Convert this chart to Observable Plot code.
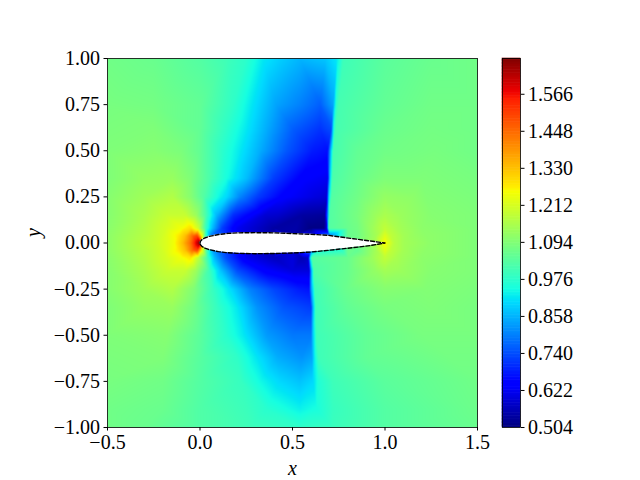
<!DOCTYPE html>
<html><head><meta charset="utf-8">
<style>
html,body{margin:0;padding:0;background:#fff}
#c{position:relative;width:640px;height:480px}
#c svg{position:absolute;left:0;top:0;background:transparent}
</style>
<script src="https://cdn.jsdelivr.net/npm/d3@7"></script>
<script src="https://cdn.jsdelivr.net/npm/@observablehq/plot@0.6"></script>
</head><body><div id="c"></div>
<script>
// field samples: each row is [y, [x, value], ...]
const rowsUpper = [
 [1.00,[-.5,1.07],[-.25,1.06],[0,1.03],[.15,1.0],[.25,.975],[.34,.92],[.43,.89],[.54,.86],[.68,.88],[.74,.92],[.775,1.0],[1,1.04],[1.25,1.06],[1.5,1.07]],
 [0.75,[-.5,1.08],[-.25,1.075],[0,1.05],[.18,.98],[.31,.9],[.41,.84],[.54,.80],[.65,.76],[.72,.84],[.735,.97],[.75,1.01],[1,1.05],[1.25,1.07],[1.5,1.07]],
 [0.62,[-.5,1.085],[-.25,1.09],[0,1.05],[.14,.98],[.25,.92],[.36,.85],[.5,.76],[.65,.71],[.71,.74],[.722,.95],[.735,1.01],[1,1.06],[1.25,1.075],[1.5,1.07]],
 [0.50,[-.5,1.09],[-.25,1.1],[-.1,1.085],[0,1.05],[.126,.97],[.216,.92],[.325,.85],[.47,.75],[.61,.68],[.69,.665],[.705,.85],[.72,1.01],[.85,1.05],[1,1.07],[1.27,1.08],[1.5,1.07]],
 [0.35,[-.5,1.09],[-.3,1.12],[-.15,1.125],[-.05,1.09],[.05,1.02],[.14,.95],[.25,.87],[.4,.72],[.55,.64],[.69,.62],[.70,.85],[.715,1.02],[.85,1.06],[1,1.09],[1.2,1.09],[1.5,1.08]],
 [0.25,[-.5,1.1],[-.3,1.135],[-.15,1.16],[-.05,1.1],[.02,1.03],[.11,.93],[.145,.9],[.22,.8],[.31,.72],[.45,.64],[.63,.6],[.685,.59],[.695,.88],[.71,1.03],[.85,1.07],[1,1.12],[1.15,1.11],[1.5,1.085]],
 [0.15,[-.5,1.1],[-.3,1.15],[-.18,1.19],[-.08,1.19],[-.02,1.13],[.03,1.02],[.09,.86],[.18,.7],[.35,.59],[.55,.54],[.675,.53],[.69,.8],[.70,1.03],[.85,1.08],[.95,1.13],[1,1.15],[1.08,1.13],[1.25,1.1],[1.5,1.09]],
 [0.08,[-.5,1.105],[-.3,1.16],[-.18,1.21],[-.1,1.25],[-.05,1.29],[-.01,1.2],[.03,1.0],[.07,.86],[.12,.72],[.2,.62],[.4,.54],[.6,.51],[.67,.51],[.685,.6],[.695,1.03],[.8,1.06],[.93,1.13],[1,1.18],[1.06,1.15],[1.2,1.11],[1.5,1.09]],
 [0.04,[-.5,1.11],[-.3,1.165],[-.18,1.22],[-.12,1.27],[-.08,1.33],[-.04,1.45],[-.015,1.5],[.01,1.25],[.03,1.0],[.06,.8],[.5,.55],[.7,.8],[.85,1.07],[.95,1.14],[1,1.22],[1.03,1.18],[1.1,1.14],[1.25,1.11],[1.5,1.09]],
 [0.00,[-.5,1.11],[-.32,1.165],[-.23,1.195],[-.14,1.25],[-.095,1.33],[-.05,1.45],[-.014,1.62],[-.002,1.68],[.01,1.3],[.5,.8],[.95,1.15],[.99,1.24],[1,1.26],[1.02,1.22],[1.05,1.17],[1.1,1.14],[1.25,1.11],[1.5,1.09]]
];
const rowsLower = [
 [-0.04,[-.5,1.11],[-.3,1.165],[-.18,1.22],[-.12,1.27],[-.08,1.33],[-.04,1.45],[-.015,1.5],[.01,1.25],[.035,1.02],[.07,.84],[.5,.6],[.6,.8],[.85,1.05],[.95,1.14],[1,1.22],[1.03,1.18],[1.1,1.14],[1.25,1.11],[1.5,1.09]],
 [-0.08,[-.5,1.105],[-.3,1.16],[-.18,1.21],[-.1,1.25],[-.05,1.28],[-.01,1.18],[.04,1.0],[.08,.86],[.14,.74],[.25,.62],[.4,.57],[.55,.56],[.585,.58],[.595,.9],[.605,1.03],[.8,1.06],[.93,1.13],[1,1.18],[1.06,1.15],[1.2,1.11],[1.5,1.09]],
 [-0.15,[-.5,1.1],[-.3,1.15],[-.18,1.19],[-.08,1.19],[-.02,1.13],[.05,1.0],[.11,.88],[.2,.74],[.35,.64],[.5,.6],[.59,.6],[.6,.82],[.615,1.02],[.8,1.06],[.95,1.12],[1,1.14],[1.08,1.13],[1.25,1.1],[1.5,1.09]],
 [-0.25,[-.5,1.1],[-.3,1.135],[-.15,1.16],[-.03,1.09],[.07,.99],[.16,.91],[.27,.8],[.4,.73],[.54,.68],[.59,.67],[.6,.82],[.62,1.0],[.79,1.06],[1,1.1],[1.22,1.095],[1.5,1.085]],
 [-0.35,[-.5,1.09],[-.3,1.12],[-.15,1.125],[-.03,1.07],[.09,.99],[.2,.92],[.31,.82],[.45,.75],[.6,.72],[.61,.85],[.625,1.0],[.8,1.05],[1,1.08],[1.25,1.09],[1.5,1.08]],
 [-0.50,[-.5,1.09],[-.18,1.1],[0,1.04],[.145,.97],[.235,.92],[.36,.83],[.5,.79],[.6,.79],[.61,.88],[.63,1.0],[.9,1.05],[1.2,1.08],[1.5,1.08]],
 [-0.62,[-.5,1.085],[-.2,1.09],[0,1.035],[.2,.98],[.3,.92],[.42,.85],[.55,.82],[.605,.84],[.62,.93],[.64,1.0],[.9,1.05],[1.5,1.075]],
 [-0.75,[-.5,1.08],[-.2,1.07],[0,1.03],[.22,.99],[.325,.94],[.43,.9],[.54,.875],[.61,.9],[.64,.96],[.72,1.0],[1,1.04],[1.5,1.07]],
 [-0.90,[-.5,1.07],[-.2,1.06],[0,1.025],[.36,.97],[.54,.93],[.63,.95],[.72,.99],[1,1.03],[1.5,1.065]],
 [-1.00,[-.5,1.07],[-.3,1.06],[0,1.025],[.27,1.0],[.54,.98],[.72,.995],[1,1.03],[1.5,1.06]]
];
// aerofoil outline
const foilX     = [0,.003,.01,.025,.05,.1,.15,.2,.3,.4,.5,.6,.69,.83,.92,1];
const foilUpper = [0,.010,.018,.027,.036,.046,.052,.055,.056,.055,.051,.047,.042,.023,.011,0];
const foilLower = [0,-.010,-.018,-.027,-.036,-.047,-.053,-.056,-.058,-.057,-.054,-.049,-.040,-.025,-.014,0];
// colour bar
const barTicks = [0.504,0.622,0.740,0.858,0.976,1.094,1.212,1.330,1.448,1.566];
const barMin = 0.504, barMax = 1.68;
const xTicks = [-0.5,0,0.5,1,1.5];
const yTicks = [-1,-0.75,-0.5,-0.25,0,0.25,0.5,0.75,1];
// matplotlib jet stops
const jetT = [0,.11,.125,.34,.35,.375,.64,.65,.66,.89,.91,1];
const jetC = ["#00007f","#0000ff","#0000ff","#00dcfe","#00e5f5","#16ffe1","#f7ff00","#ffee00","#ffe500","#ff1e00","#ee0000","#7f0000"];

const samples = [...rowsUpper,...rowsLower].flatMap(([y,...pts])=>pts.map(([x,v])=>({x,y,v})));
const colorOpt = {type:"linear",domain:jetT.map(t=>barMin+t*(barMax-barMin)),range:jetC,clamp:true,interpolate:"rgb"};
const font = "'Liberation Serif','DejaVu Serif',serif";
const minus = s=>s.replace("-","\u2212");
const foil = foilX.map((x,i)=>({x,u:foilUpper[i],l:foilLower[i]}));
const outline = [...foil.map(d=>({x:d.x,y:d.u})),...foil.slice().reverse().map(d=>({x:d.x,y:d.l}))];

const main = Plot.plot({
  width:640,height:480,marginLeft:107,marginRight:163,marginTop:58,marginBottom:53,
  style:{fontFamily:font,fontSize:"20px",background:"transparent",color:"#000"},
  x:{domain:[-.5,1.5]},y:{domain:[-1,1]},color:colorOpt,
  marks:[
    Plot.raster(samples,{x:"x",y:"y",fill:"v",interpolate:"barycentric",x1:-.5,x2:1.5,y1:-1,y2:1,pixelSize:1}),
    Plot.areaY(foil,{x:"x",y1:"l",y2:"u",fill:"#fff"}),
    Plot.line(outline,{x:"x",y:"y",stroke:"#000",strokeWidth:1.4,strokeDasharray:"4,2"}),
    Plot.frame({stroke:"#000",strokeWidth:.8}),
    Plot.axisX({ticks:xTicks,tickSize:3.5,tickPadding:4,tickFormat:d=>minus(d3.format(".1f")(d)),label:null,fontSize:20}),
    Plot.axisY({ticks:yTicks,tickSize:3.5,tickPadding:4,tickFormat:d=>minus(d3.format(".2f")(d)),label:null,fontSize:20}),
    Plot.text(["x"],{frameAnchor:"bottom",dy:47,text:d=>d,fontStyle:"italic",fontSize:20}),
    Plot.text(["y"],{frameAnchor:"left",dx:-74,dy:-6,text:d=>d,fontStyle:"italic",fontSize:20,rotate:-90})
  ]
});
const levels = d3.range(256).map(i=>barMin+(barMax-barMin)*i/256);
const step = (barMax-barMin)/256;
const bar = Plot.plot({
  width:640,height:480,marginLeft:502,marginRight:120,marginTop:58,marginBottom:53,
  style:{fontFamily:font,fontSize:"20px",background:"transparent",color:"#000"},
  x:{domain:[0,1],axis:null},y:{domain:[barMin,barMax]},color:colorOpt,
  marks:[
    Plot.rect(levels,{x1:0,x2:1,y1:d=>d,y2:d=>d+step,fill:d=>d+step/2,inset:-0.3}),
    Plot.frame({stroke:"#000",strokeWidth:.8}),
    Plot.axisY({anchor:"right",ticks:barTicks,tickSize:3.5,tickPadding:4,tickFormat:d3.format(".3f"),label:null,fontSize:20})
  ]
});
document.getElementById("c").append(main,bar);
</script></body></html>
